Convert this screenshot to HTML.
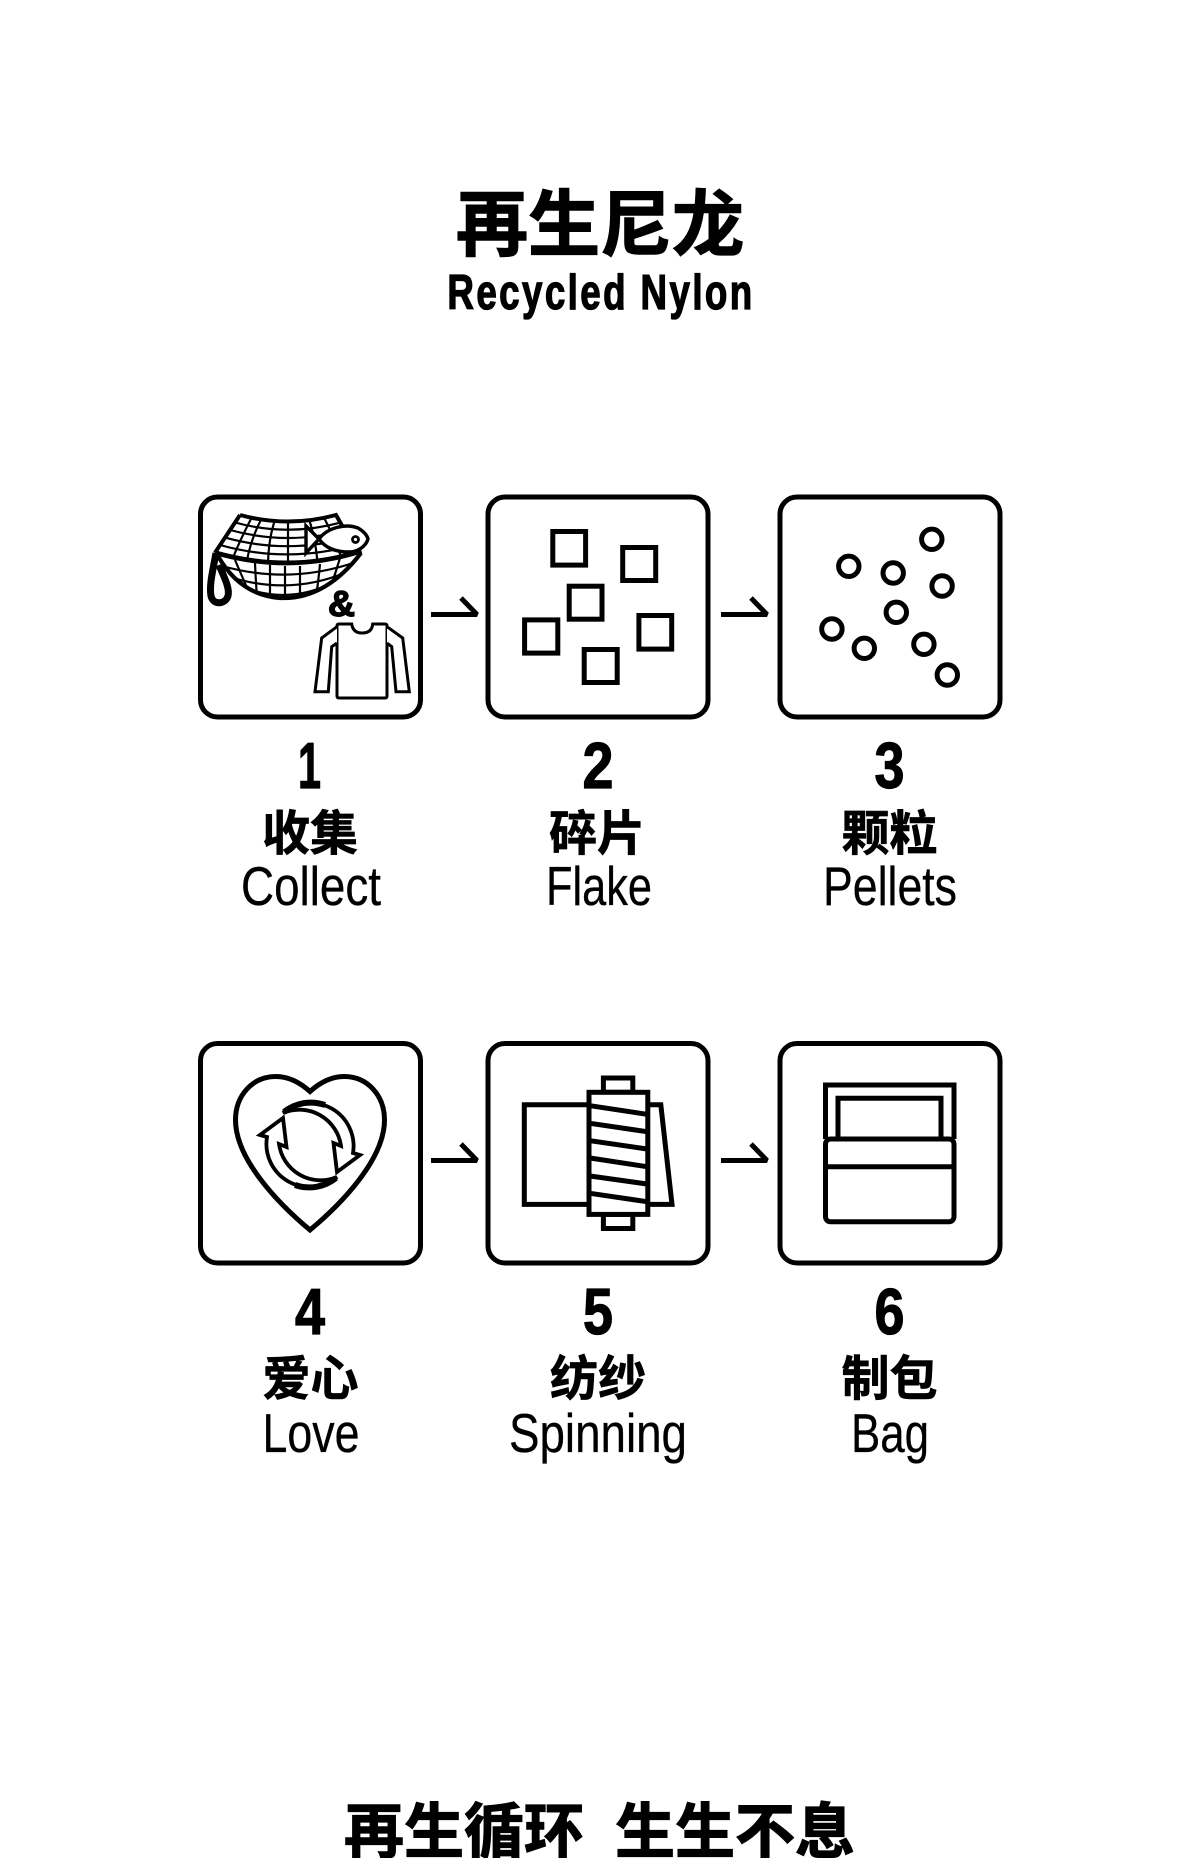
<!DOCTYPE html>
<html lang="zh">
<head>
<meta charset="utf-8">
<title>再生尼龙 Recycled Nylon</title>
<style>
html,body{margin:0;padding:0;background:#fff;width:1200px;height:1858px;overflow:hidden}
svg{display:block}
.cjk{font-family:"Liberation Sans","Noto Sans CJK SC",sans-serif;font-weight:700;fill:#000;stroke:#000;stroke-width:.7;text-anchor:middle}
.num{font-family:"Liberation Sans",sans-serif;font-weight:700;fill:#000;stroke:#000;stroke-width:1.2;font-size:65px;text-anchor:middle}
.en{font-family:"Liberation Sans",sans-serif;font-weight:400;fill:#000;stroke:#000;stroke-width:.3;font-size:55px;text-anchor:middle}
.l{fill:none;stroke:#000;stroke-width:5;stroke-linejoin:miter}
.a{fill:none;stroke:#000;stroke-width:5;stroke-linejoin:bevel}
</style>
</head>
<body>
<svg width="1200" height="1858" viewBox="0 0 1200 1858" xmlns="http://www.w3.org/2000/svg">
<defs>
<clipPath id="netTop"><path d="M240 515Q288 528 336 515L361 552Q290 572 215 552Z"/></clipPath>
<clipPath id="netBot"><path d="M218 556Q290 575 361 553Q325 600 280 598Q240 595 218 556Z"/></clipPath>
</defs>
<rect width="1200" height="1858" fill="#fff"/>

<text class="cjk" x="600" y="250" font-size="72" style="stroke-width:1.4">再生尼龙</text>
<text transform="translate(601 309) scale(.75 1)" x="0" y="0" font-family="'Liberation Sans',sans-serif" font-weight="700" font-size="49" text-anchor="middle" letter-spacing="3.2" stroke="#000" stroke-width="1.300">Recycled Nylon</text>

<!-- boxes -->
<g class="l">
<rect x="200.500" y="497" width="220" height="220" rx="17"/>
<rect x="488" y="497" width="220" height="220" rx="17"/>
<rect x="780" y="497" width="220" height="220" rx="17"/>
<rect x="200.500" y="1043.500" width="220" height="219.500" rx="17"/>
<rect x="488" y="1043.500" width="220" height="219.500" rx="17"/>
<rect x="780" y="1043.500" width="220" height="219.500" rx="17"/>
</g>
<!-- arrows -->
<g class="a">
<path d="M431 614.500H477L461 598"/>
<path d="M721 614.500H767L751 598"/>
<path d="M431 1160.500H477L461 1144"/>
<path d="M721 1160.500H767L751 1144"/>
</g>

<!-- collect icon -->
<g fill="none" stroke="#000" stroke-width="2.200" clip-path="url(#netTop)">
<path d="M235 522.500Q288 537 341 522.400M230 530Q288 546 346 530M225 537.600Q288 555 351 537.200M220 545Q288 564 356 544.600"/>
<path d="M252 517Q240 540 232 560M262 518Q250 540 246 566M275 520Q268 540 268 568M288 520V570M309 519Q316 540 318 568M323 516Q336 540 342 560"/>
</g>
<g fill="none" stroke="#000" stroke-width="2.200" clip-path="url(#netBot)">
<path d="M222 566Q290 585 356 562M230 577Q290 596 347 572M248 589Q290 603 330 584"/>
<path d="M235 560L248 590M255 563Q256 585 257 596M270 565V598M285 566V600M300 566V600M320 564Q318 585 316 596M340 558L330 590"/>
</g>
<path d="M240 515Q288 528 336 515L344 529M240 515L215 552.700" fill="none" stroke="#000" stroke-width="4"/>
<path d="M215 552.700Q290 574 361.500 551" fill="none" stroke="#000" stroke-width="4.800"/>
<path d="M218 556Q240 595 280 598Q325 600 361 553" fill="none" stroke="#000" stroke-width="4.200"/>
<path d="M216 553C213 570 209 585 211 596C213 605 225 605 228 596C230 588 224 577 219 565" fill="none" stroke="#000" stroke-width="7"/>
<path d="M306 526L319 539C327 528 345 523 358 528C363 531 367 535 368 539C366 546 358 552 349 552C337 552 326 549 319 539L306 553Z" fill="#fff" stroke="#000" stroke-width="3.400"/>
<circle cx="355.500" cy="539.500" r="3" fill="#fff" stroke="#000" stroke-width="2.800"/>
<text x="341.500" y="616" font-family="'Liberation Sans',sans-serif" font-weight="700" font-size="36" text-anchor="middle" textLength="27" lengthAdjust="spacingAndGlyphs" stroke="#000" stroke-width="1.400">&amp;</text>
<path d="M337 626Q337 624 339 624H351.700Q353 633 362 633Q372 633 372.700 624H385Q387 624 387 626V696Q387 698 385 698H339Q337 698 337 696Z" fill="#fff" stroke="#000" stroke-width="3"/>
<path d="M337 626.700L321.700 638L315 691.700H328.300L331.700 646.700L337 643" fill="#fff" stroke="#000" stroke-width="3"/>
<path d="M387 626.700L402.700 638L409.300 691.700H396L391.700 646.700L387 643" fill="#fff" stroke="#000" stroke-width="3"/>

<!-- flakes -->
<g class="l">
<rect x="552.800" y="531.500" width="32.800" height="33.600"/>
<rect x="622.700" y="547.500" width="33" height="33"/>
<rect x="569.200" y="586.200" width="32.800" height="33"/>
<rect x="524.600" y="619.900" width="33.200" height="33.200"/>
<rect x="638.900" y="615.500" width="32.800" height="33.600"/>
<rect x="584.200" y="649.500" width="33" height="33"/>
</g>

<!-- pellets -->
<g class="l">
<circle cx="931.800" cy="539.300" r="10.200"/>
<circle cx="848.800" cy="566.300" r="10.200"/>
<circle cx="893.200" cy="573" r="10.200"/>
<circle cx="942.100" cy="586" r="10.200"/>
<circle cx="896.300" cy="612.300" r="10.200"/>
<circle cx="831.900" cy="629" r="10.200"/>
<circle cx="864.300" cy="648.300" r="10.200"/>
<circle cx="923.900" cy="644.300" r="10.200"/>
<circle cx="947.300" cy="675" r="10.200"/>
</g>

<!-- heart -->
<path d="M310 1091.500C300 1082.500 288 1076.500 276 1076.500C252 1076.500 235.500 1096 235.500 1120C235.500 1160 280 1205 310 1230C340 1205 384.500 1160 384.500 1120C384.500 1096 368 1076.500 344 1076.500C332 1076.500 320 1082.500 310 1091.500Z" fill="none" stroke="#000" stroke-width="5"/>
<g fill="#fff" stroke="#000" stroke-width="3.800" stroke-linejoin="miter">
<path d="M283 1113A43 43 0 0 1 353 1153L360 1155L337 1172L333.500 1143L341 1146A42 42 0 0 0 283 1113Z"/>
<path d="M283 1113A43 43 0 0 1 353 1153L360 1155L337 1172L333.500 1143L341 1146A42 42 0 0 0 283 1113Z" transform="rotate(180 310 1145)"/>
</g>
<path d="M284 1112A43 43 0 0 1 325 1105" fill="none" stroke="#000" stroke-width="6"/>
<path d="M336 1178A43 43 0 0 1 295 1185" fill="none" stroke="#000" stroke-width="6"/>

<!-- spool -->
<g class="l">
<path d="M587 1104.700H524.300V1204.400H587"/>
<path d="M649 1104.700H660.800L672 1204.400H649"/>
<rect x="603.400" y="1078" width="29.400" height="14.300" fill="#fff"/>
<rect x="603.400" y="1214.400" width="29.400" height="14.100" fill="#fff"/>
<rect x="589" y="1092.300" width="58.800" height="122.100" fill="#fff"/>
<path d="M590 1105.700L647 1114.300M590 1123.300L647 1131.700M590 1140.700L647 1149M590 1158L647 1166.700M590 1176L647 1184M590 1193.300L647 1201.700"/>
</g>

<!-- bag -->
<g class="l">
<path d="M825.500 1139V1085H954V1139"/>
<path d="M838 1139V1098.300H941V1139"/>
<rect x="825.500" y="1139" width="128.500" height="82.800" rx="5"/>
<path d="M825.500 1166.700H954"/>
</g>

<!-- labels row 1 -->
<text class="num" x="309.500" y="788" textLength="23" lengthAdjust="spacingAndGlyphs">1</text>
<text class="num" x="598" y="788" textLength="31" lengthAdjust="spacingAndGlyphs">2</text>
<text class="num" x="889.500" y="788" textLength="30" lengthAdjust="spacingAndGlyphs">3</text>
<text class="cjk" x="310" y="850" font-size="48">收集</text>
<text class="cjk" x="597" y="850" font-size="48">碎片</text>
<text class="cjk" x="889.500" y="850" font-size="48">颗粒</text>
<text class="en" x="311" y="905" textLength="140" lengthAdjust="spacingAndGlyphs">Collect</text>
<text class="en" x="599" y="905" textLength="106" lengthAdjust="spacingAndGlyphs">Flake</text>
<text class="en" x="890" y="905" textLength="134" lengthAdjust="spacingAndGlyphs">Pellets</text>

<!-- labels row 2 -->
<text class="num" x="310" y="1334" textLength="30" lengthAdjust="spacingAndGlyphs">4</text>
<text class="num" x="598" y="1334" textLength="30" lengthAdjust="spacingAndGlyphs">5</text>
<text class="num" x="889.500" y="1334" textLength="30" lengthAdjust="spacingAndGlyphs">6</text>
<text class="cjk" x="310.500" y="1395" font-size="48">爱心</text>
<text class="cjk" x="598" y="1395" font-size="48">纺纱</text>
<text class="cjk" x="889.500" y="1395" font-size="48">制包</text>
<text class="en" x="311" y="1452" textLength="97" lengthAdjust="spacingAndGlyphs">Love</text>
<text class="en" x="598" y="1452" textLength="178" lengthAdjust="spacingAndGlyphs">Spinning</text>
<text class="en" x="890" y="1452" textLength="78" lengthAdjust="spacingAndGlyphs">Bag</text>

<!-- footer -->
<text class="cjk" x="464" y="1853" font-size="60" style="stroke-width:1.200">再生循环</text>
<text class="cjk" x="735" y="1853" font-size="60" style="stroke-width:1.200">生生不息</text>
</svg>
</body>
</html>
